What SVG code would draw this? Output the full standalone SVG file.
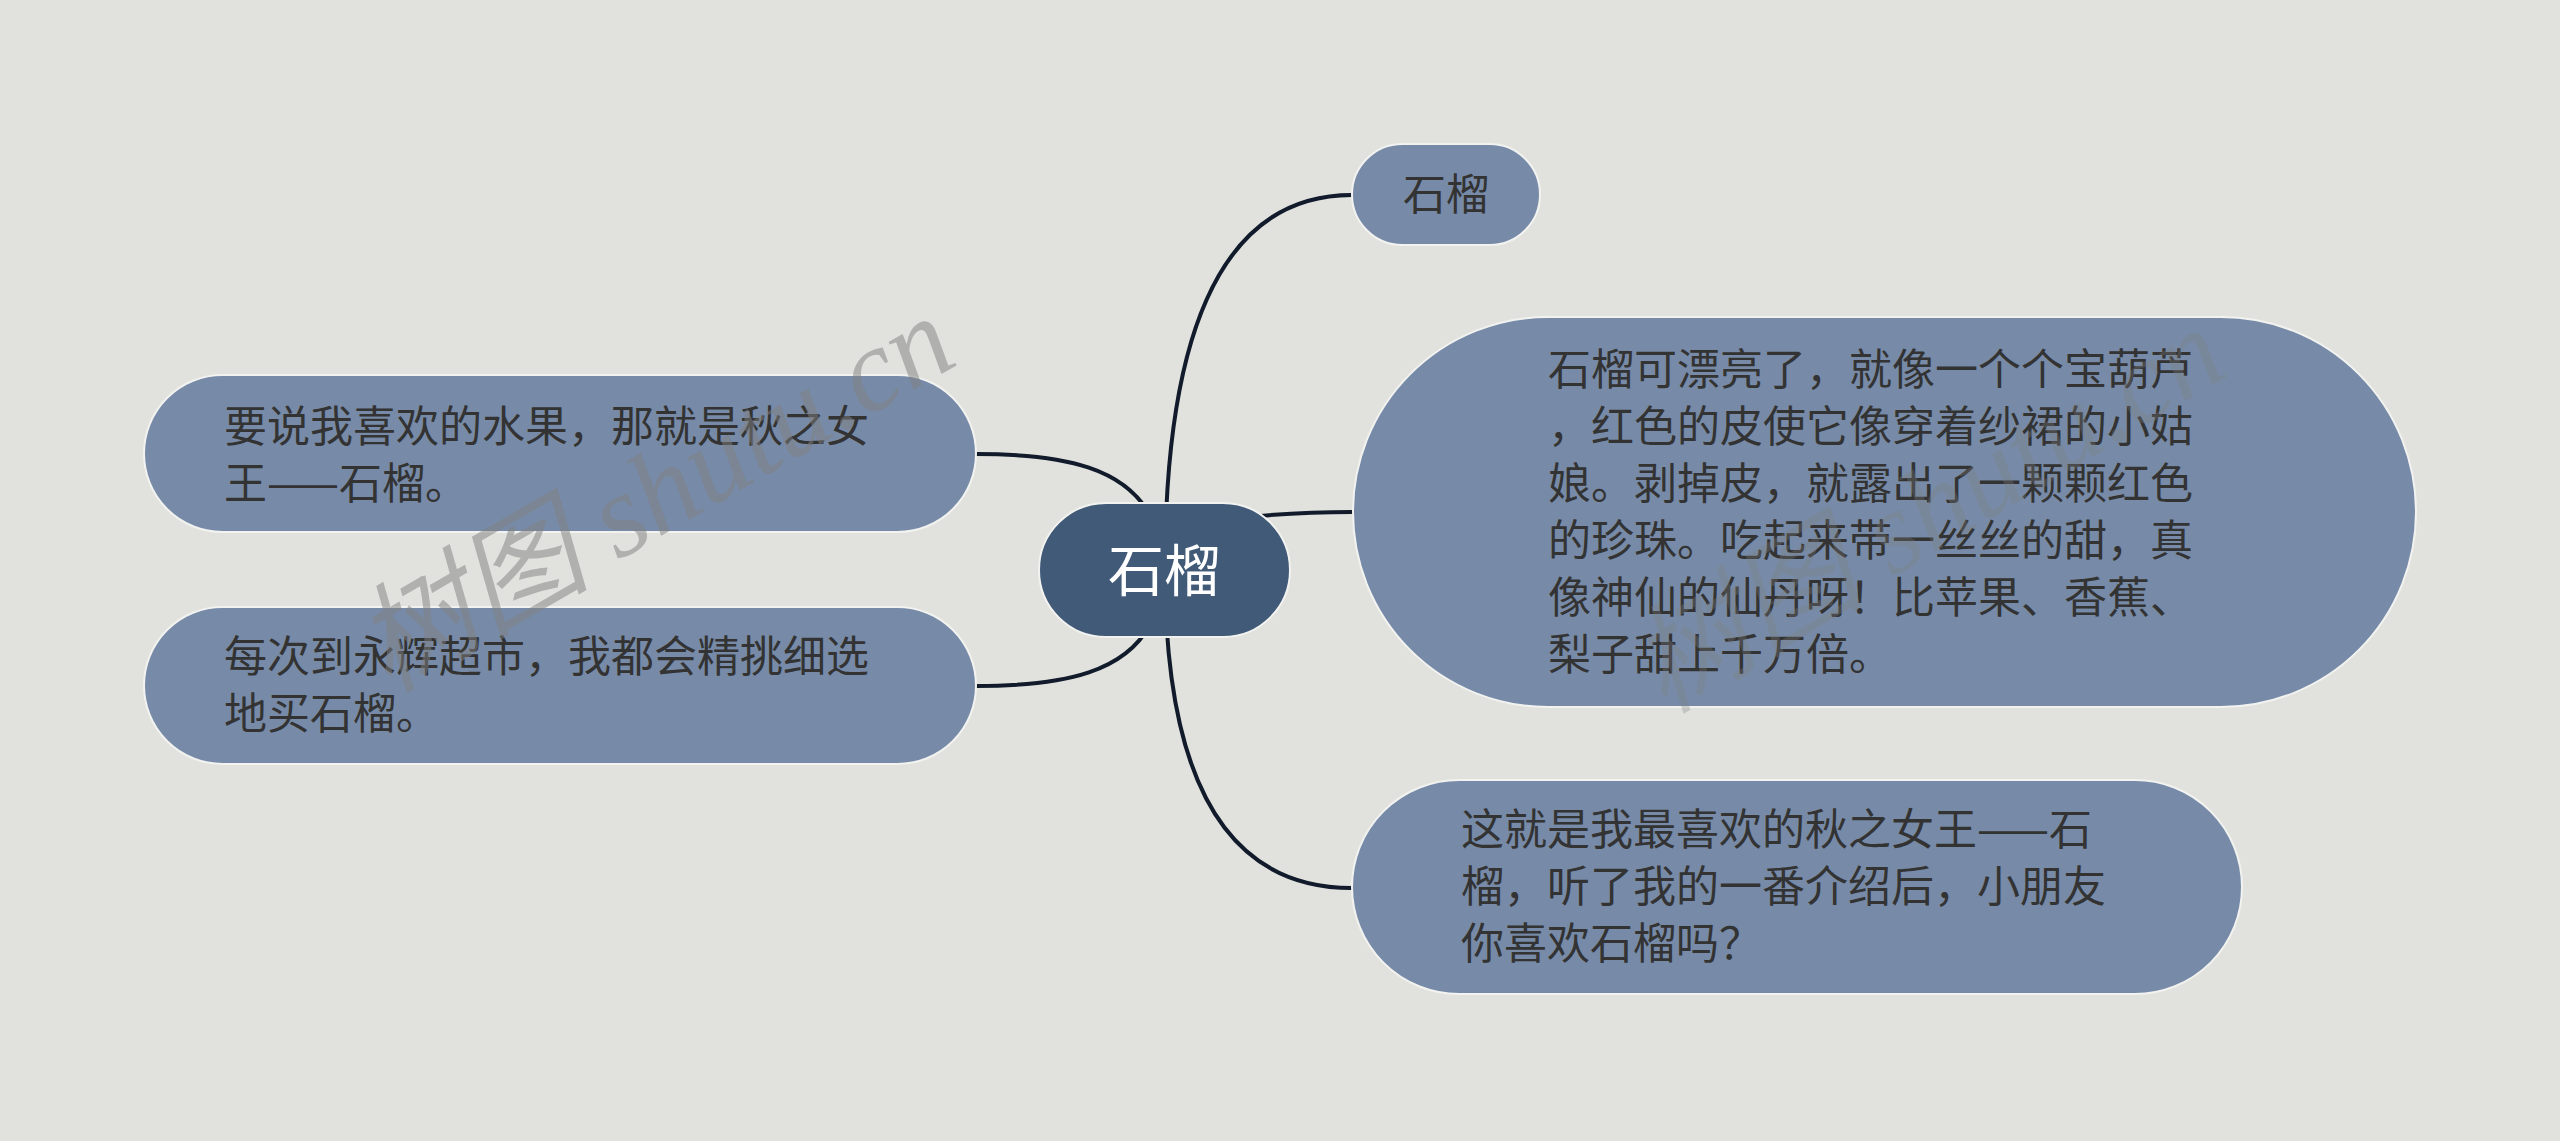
<svg xmlns="http://www.w3.org/2000/svg" width="2560" height="1141" viewBox="0 0 2560 1141">
<style>
.bg{fill:#e1e2dd}
.node{fill:#778ba8;stroke:#f2f3f0;stroke-width:2}
.root{fill:#415a78;stroke:#f2f3f0;stroke-width:2}
.t{font-family:"Noto Sans CJK SC","Noto Sans",sans-serif;font-size:43px;fill:#333333}
.rt{font-family:"Noto Sans CJK SC","Noto Sans",sans-serif;font-size:56px;fill:#ffffff}
.conn{fill:none;stroke:#111b2b;stroke-width:4;stroke-linecap:round}
.wm{font-family:"Liberation Serif","Noto Sans CJK SC",serif;font-style:italic;font-size:118px;fill:#808080}
</style>
<rect class="bg" x="0" y="0" width="2560" height="1141"/>
<g id="connectors">
<path class="conn" d="M1165,570 Q1165,195 1352,195"/>
<path class="conn" d="M1165,570 Q1165,888 1352,888"/>
<path class="conn" d="M1200,522 Q1280,512 1352,512"/>
<path class="conn" d="M976,454 C1070,454 1125,470 1150,515"/>
<path class="conn" d="M976,686 C1070,686 1125,670 1150,625"/>
</g>
<g id="root">
<rect class="root" x="1039" y="503" width="251" height="134" rx="67" ry="67"/>
<text class="rt" x="1164" y="591" text-anchor="middle">石榴</text>
</g>
<g id="node-top">
<rect class="node" x="1352" y="144" width="188" height="101" rx="50.5" ry="50.5"/>
<text class="t" x="1446" y="210" text-anchor="middle">石榴</text>
</g>
<g id="node-big">
<rect class="node" x="1353" y="317" width="1063" height="390" rx="195" ry="195"/>
<text class="t">
<tspan x="1548" y="385">石榴可漂亮了，就像一个个宝葫芦</tspan>
<tspan x="1548" y="442">，红色的皮使它像穿着纱裙的小姑</tspan>
<tspan x="1548" y="499">娘。剥掉皮，就露出了一颗颗红色</tspan>
<tspan x="1548" y="556">的珍珠。吃起来带一丝丝的甜，真</tspan>
<tspan x="1548" y="613">像神仙的仙丹呀！比苹果、香蕉、</tspan>
<tspan x="1548" y="670">梨子甜上千万倍。</tspan>
</text>
</g>
<g id="node-bottom">
<rect class="node" x="1352" y="780" width="890" height="214" rx="107" ry="107"/>
<text class="t">
<tspan x="1461" y="845">这就是我最喜欢的秋之女王——石</tspan>
<tspan x="1461" y="902">榴，听了我的一番介绍后，小朋友</tspan>
<tspan x="1461" y="959">你喜欢石榴吗？</tspan>
</text>
</g>
<g id="node-left1">
<rect class="node" x="144" y="375" width="832" height="157" rx="78.5" ry="78.5"/>
<text class="t">
<tspan x="224" y="442">要说我喜欢的水果，那就是秋之女</tspan>
<tspan x="224" y="499">王——石榴。</tspan>
</text>
</g>
<g id="node-left2">
<rect class="node" x="144" y="607" width="832" height="157" rx="78.5" ry="78.5"/>
<text class="t">
<tspan x="224" y="672">每次到永辉超市，我都会精挑细选</tspan>
<tspan x="224" y="729">地买石榴。</tspan>
</text>
</g>
<g id="watermarks">
<text class="wm" x="657" y="533" text-anchor="middle" opacity="0.5" transform="rotate(-30 657 498)">树图 shutu.cn</text>
<text class="wm" x="1930" y="549" text-anchor="middle" fill="#5a6a80" opacity="0.3" transform="rotate(-31 1930 514)">树图 shutu.cn</text>
</g>
</svg>
